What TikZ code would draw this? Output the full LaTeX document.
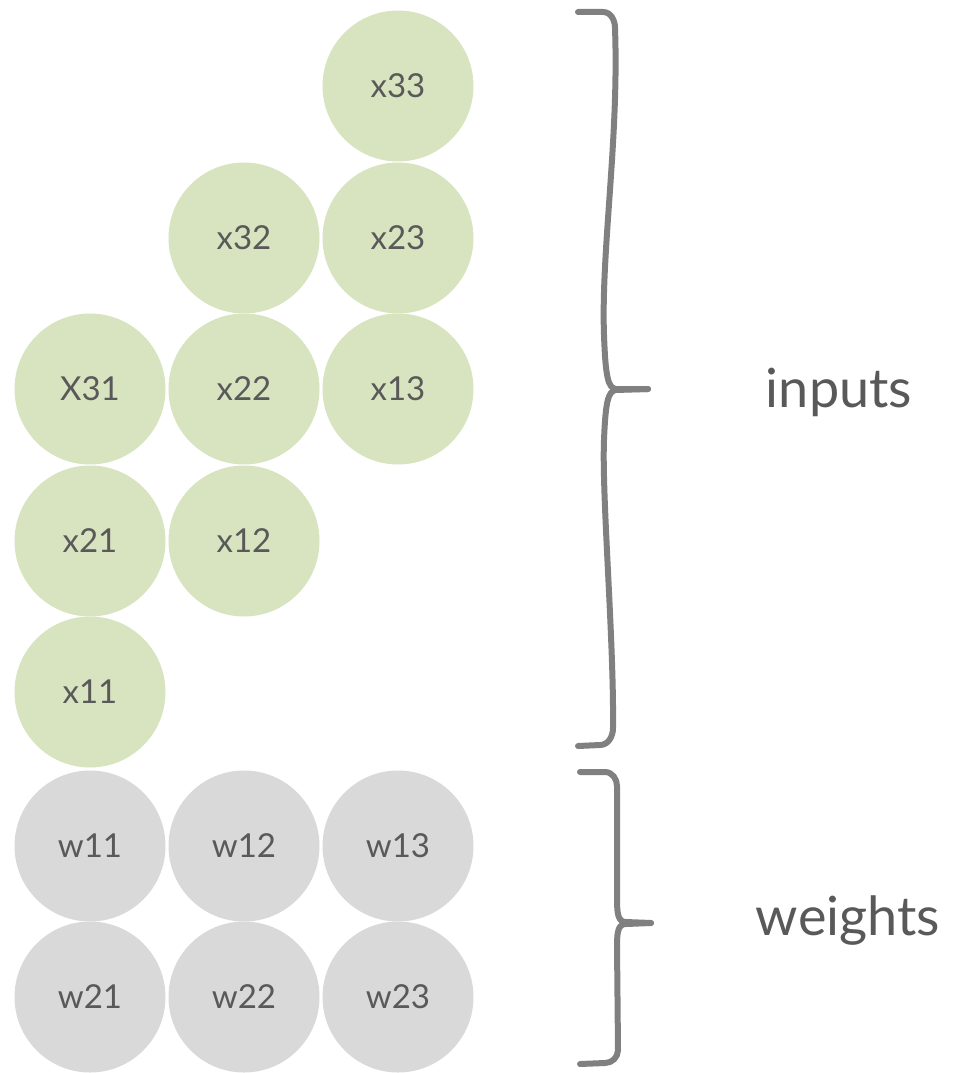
\documentclass[tikz,border=0pt]{standalone}
\usepackage{fontspec}
\setmainfont{Lato}
\definecolor{ingreen}{HTML}{D8E4C0}
\definecolor{wgray}{HTML}{D9D9D9}
\definecolor{txtgray}{HTML}{595959}
\definecolor{bracegray}{HTML}{808080}
\begin{document}
\begin{tikzpicture}[x=1pt,y=-1pt,
  cell/.style={circle,inner sep=0pt,minimum size=151pt,text=txtgray,font=\fontsize{33}{36}\selectfont},
  incell/.style={cell,fill=ingreen},
  wcell/.style={cell,fill=wgray},
  brace/.style={draw=bracegray,line width=6pt,line cap=round,line join=round},
  label/.style={text=txtgray,font=\fontsize{54}{60}\selectfont}]
\useasboundingbox (0,0) rectangle (956,1073);
% inputs
\node[incell] (x33) at (398,86) {x33};
\node[incell] (x32) at (244,238) {x32};
\node[incell] (x23) at (398,238) {x23};
\node[incell] (x31) at (90,389) {X31};
\node[incell] (x22) at (244,389) {x22};
\node[incell] (x13) at (398,389) {x13};
\node[incell] (x21) at (90,541) {x21};
\node[incell] (x12) at (244,541) {x12};
\node[incell] (x11) at (90,692) {x11};
% weights
\node[wcell] (w11) at (90,846) {w11};
\node[wcell] (w12) at (244,846) {w12};
\node[wcell] (w13) at (398,846) {w13};
\node[wcell] (w21) at (90,997) {w21};
\node[wcell] (w22) at (244,997) {w22};
\node[wcell] (w23) at (398,997) {w23};
% braces
\coordinate (itip) at (648,389);
\coordinate (wtip) at (651,923);
\draw[brace] (578,12) -- (603,12) to[out=0,in=90] (615,28)
  .. controls (619,140) and (601,250) .. (604,335)
  .. controls (605.5,377) and (608,388) .. (616,389) -- (itip);
\draw[brace] (itip) -- (616,390)
  .. controls (608,391) and (605.5,402) .. (604,440)
  .. controls (601.75,497) and (614,640) .. (613,728)
  to[out=-90,in=0] (600,745) -- (578,746);
\draw[brace] (580,772) -- (605,772) to[out=0,in=90] (617,786)
  -- (617,900) .. controls (617,916) and (619,922) .. (626,922) -- (wtip);
\draw[brace] (wtip) -- (626,924) .. controls (619,924) and (617,930) .. (617,945)
  -- (618,1050) to[out=-90,in=0] (605,1063) -- (580,1064);
% labels
\node[label] (inputs) at (839,392) {inputs};
\node[label] (weights) at (848,921) {weights};
\end{tikzpicture}
\end{document}
